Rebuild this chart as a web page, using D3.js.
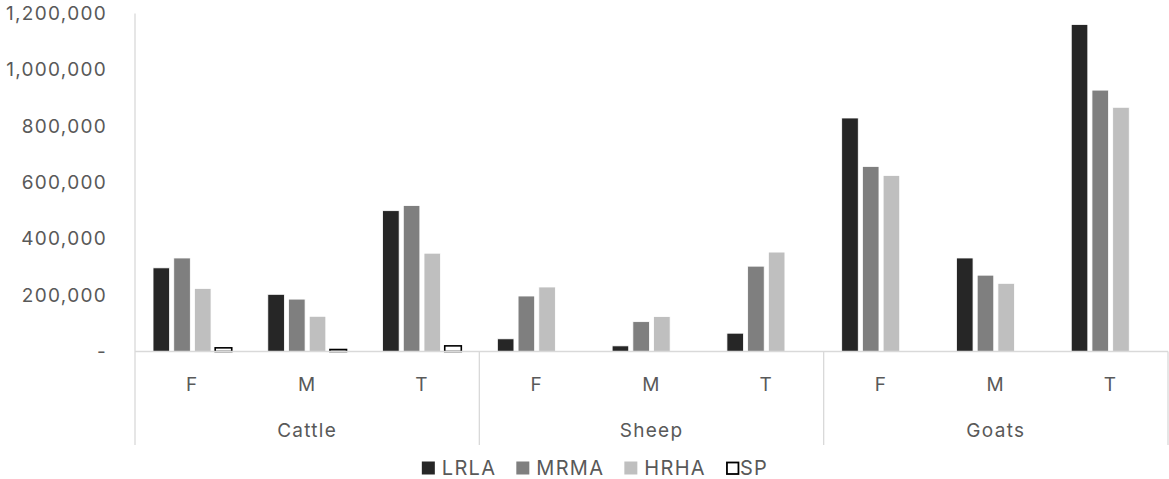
<!DOCTYPE html>
<html>
<head>
<meta charset="utf-8">
<script src="https://cdn.jsdelivr.net/npm/d3@7"></script>
<style>
  html, body { margin: 0; padding: 0; background: #fff; }
  svg { display: block; font-family: Inter, "Open Sans", sans-serif; }
</style>
</head>
<body>
<svg id="chart" width="1169" height="479"></svg>
<script>
// Livestock counts by species, sex (F/M) and total (T), per zone
const groups = ["Cattle", "Sheep", "Goats"];
const sexes = ["F", "M", "T"];
const series = ["LRLA", "MRMA", "HRHA", "SP"];
const LRLA = [297000, 203000, 500000, 45000, 20000, 65000, 829000, 332000, 1161000];
const MRMA = [332000, 186000, 518000, 197000, 106000, 303000, 657000, 271000, 928000];
const HRHA = [224000, 125000, 349000, 229000, 124000, 353000, 625000, 242000, 867000];
const SP   = [13000, 7000, 20000, null, null, null, null, null, null];
const yTicks = [0, 200000, 400000, 600000, 800000, 1000000, 1200000];

const fills = { LRLA: "#262626", MRMA: "#7f7f7f", HRHA: "#bfbfbf", SP: "#ffffff" };
const values = { LRLA, MRMA, HRHA, SP };

const svg = d3.select("#chart");
const plotLeft = 135, plotRight = 1168, plotTop = 13.5, base = 351.5, axisBottom = 445;
const textColor = "#595959", lineColor = "#d9d9d9";
const fontSize = 19, spacing = "1.3px";

// one cell per species/sex pair
const cells = [];
groups.forEach(g => sexes.forEach(s => cells.push({ group: g, sex: s, key: g + "|" + s })));

const x0 = d3.scaleBand().domain(cells.map(c => c.key)).range([plotLeft, plotRight]).padding(0);
const x1 = d3.scaleBand().domain(series).range([0, x0.bandwidth()]).paddingInner(0.2).paddingOuter(0.87);
const y = d3.scaleLinear().domain([0, 1200000]).range([base, plotTop]);

// y axis labels
const fmt = d3.format(",");
svg.append("g").selectAll("text").data(yTicks).join("text")
  .attr("x", 107).attr("y", d => y(d)).attr("dy", "0.35em")
  .attr("text-anchor", "end").attr("fill", textColor)
  .attr("font-size", fontSize).attr("letter-spacing", spacing)
  .text(d => d === 0 ? "-" : fmt(d));

// bars
const barData = [];
cells.forEach((c, i) => series.forEach(s => {
  const v = values[s][i];
  if (v != null) barData.push({ key: c.key, s, v });
}));
svg.append("g").selectAll("rect").data(barData).join("rect")
  .attr("x", d => x0(d.key) + x1(d.s))
  .attr("width", x1.bandwidth())
  .attr("y", d => y(d.v))
  .attr("height", d => base - y(d.v))
  .attr("fill", d => fills[d.s])
  .attr("stroke", d => d.s === "SP" ? "#000" : "#ffffff")
  .attr("stroke-width", d => d.s === "SP" ? 1.6 : 0.8);

// axes lines
const axes = svg.append("g").attr("stroke", lineColor).attr("stroke-width", 1.3).attr("fill", "none");
axes.append("line").attr("x1", plotLeft).attr("x2", plotLeft).attr("y1", plotTop).attr("y2", axisBottom);
axes.append("line").attr("x1", plotLeft).attr("x2", plotRight).attr("y1", base).attr("y2", base);
groups.forEach((g, gi) => {
  const xr = gi === groups.length - 1 ? plotRight : x0(g + "|F") + 3 * x0.step();
  axes.append("line").attr("x1", xr).attr("x2", xr).attr("y1", base).attr("y2", axisBottom);
});

// category labels
svg.append("g").selectAll("text").data(cells).join("text")
  .attr("x", d => x0(d.key) + x0.bandwidth() / 2).attr("y", 384).attr("dy", "0.35em")
  .attr("text-anchor", "middle").attr("fill", textColor)
  .attr("font-size", fontSize).attr("letter-spacing", spacing)
  .text(d => d.sex);

svg.append("g").selectAll("text").data(groups).join("text")
  .attr("x", g => x0(g + "|M") + x0.bandwidth() / 2).attr("y", 430).attr("dy", "0.35em")
  .attr("text-anchor", "middle").attr("fill", textColor)
  .attr("font-size", fontSize).attr("letter-spacing", spacing)
  .text(g => g);

// legend
const legend = svg.append("g");
let lx = 0;
series.forEach(s => {
  const hollow = s === "SP";
  const item = legend.append("g").attr("transform", `translate(${lx},0)`);
  item.append("rect").attr("x", hollow ? 1 : 0).attr("y", hollow ? -5.5 : -6.5)
    .attr("width", hollow ? 11.5 : 13).attr("height", hollow ? 11.5 : 13)
    .attr("fill", fills[s]).attr("stroke", hollow ? "#000" : "none").attr("stroke-width", 1.8);
  const tx = hollow ? 14 : 20;
  const t = item.append("text").attr("x", tx).attr("y", 0).attr("dy", "0.35em")
    .attr("fill", textColor).attr("font-size", 20).attr("letter-spacing", spacing).text(s);
  lx += tx + t.node().getComputedTextLength() + 20;
});
const lb = legend.node().getBBox();
legend.attr("transform", `translate(${595 - lb.width / 2},468)`);
</script>
</body>
</html>
